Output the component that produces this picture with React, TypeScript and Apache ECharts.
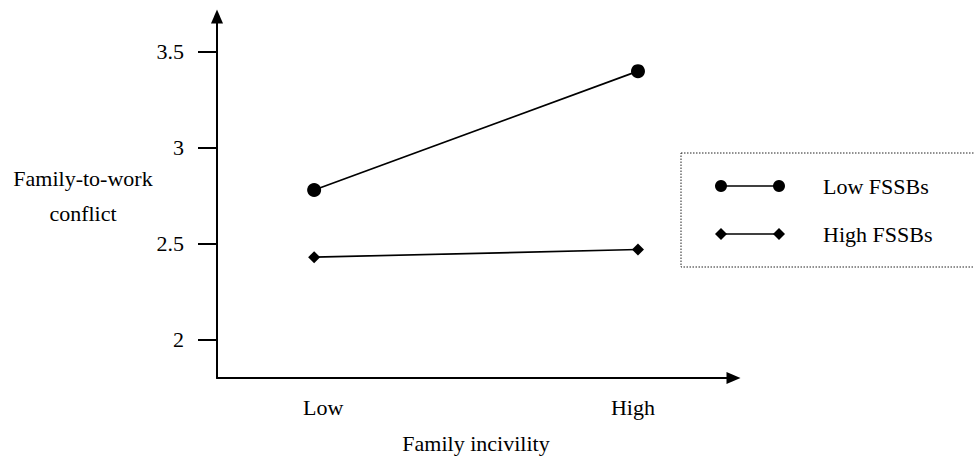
import React, { useEffect, useRef } from 'react';
import * as echarts from 'echarts';

const xCategories = ['Low', 'High'];
const seriesNames = ['Low FSSBs', 'High FSSBs'];
const lowFSSBs = [2.78, 3.4];
const highFSSBs = [2.43, 2.47];
const yTicks = [2, 2.5, 3, 3.5];
const yAxisTitle = ['Family-to-work', 'conflict'];
const xAxisTitle = 'Family incivility';

const FONT = "'Liberation Serif', 'Times New Roman', serif";

export default function App() {
  const ref = useRef<HTMLDivElement>(null);

  useEffect(() => {
    document.body.style.margin = '0';
    const chart = echarts.init(ref.current!, null, { renderer: 'svg' });
    const symbols = ['circle', 'diamond'];
    const symbolSizes = [14, 12];
    const seriesData = [lowFSSBs, highFSSBs];

    const graphics: any[] = [
      {
        type: 'rect',
        shape: { x: 681, y: 153, width: 320, height: 114 },
        style: { fill: 'none', stroke: '#222', lineWidth: 1, lineDash: [1.5, 1.5] },
      },
      {
        type: 'text',
        x: 83,
        y: 178,
        style: { text: yAxisTitle[0], fontSize: 22, fontFamily: FONT, fill: '#000', align: 'center', verticalAlign: 'middle' },
      },
      {
        type: 'text',
        x: 83,
        y: 213,
        style: { text: yAxisTitle[1], fontSize: 22, fontFamily: FONT, fill: '#000', align: 'center', verticalAlign: 'middle' },
      },
      {
        type: 'text',
        x: 476,
        y: 443,
        style: { text: xAxisTitle, fontSize: 22, fontFamily: FONT, fill: '#000', align: 'center', verticalAlign: 'middle' },
      },
    ];

    seriesNames.forEach((name, i) => {
      const y = 186 + i * 48;
      graphics.push({
        type: 'line',
        shape: { x1: 721, y1: y, x2: 779, y2: y },
        style: { stroke: '#000', lineWidth: 1.7 },
      });
      [721, 779].forEach((cx) => {
        if (symbols[i] === 'circle') {
          graphics.push({ type: 'circle', shape: { cx, cy: y, r: 6 }, style: { fill: '#000' } });
        } else {
          graphics.push({
            type: 'polygon',
            shape: { points: [[cx - 6, y], [cx, y - 6], [cx + 6, y], [cx, y + 6]] },
            style: { fill: '#000' },
          });
        }
      });
      graphics.push({
        type: 'text',
        x: 823,
        y,
        style: { text: name, fontSize: 22, fontFamily: FONT, fill: '#000', align: 'left', verticalAlign: 'middle' },
      });
    });

    chart.setOption({
      animation: false,
      backgroundColor: '#fff',
      textStyle: { fontFamily: FONT },
      grid: { left: 217, right: 240.5, top: 16.5, bottom: 80, containLabel: false },
      xAxis: {
        type: 'value',
        min: -0.3,
        max: 1.295,
        splitLine: { show: false },
        axisTick: { show: false },
        axisLine: {
          show: true,
          onZero: false,
          symbol: ['none', 'triangle'],
          symbolSize: [12, 14],
          lineStyle: { color: '#000', width: 2 },
        },
        axisLabel: {
          customValues: [0, 1],
          margin: 18,
          color: '#000',
          fontSize: 22,
          fontFamily: FONT,
          formatter: (v: number) => (Math.round(v) === 0 ? '{l|' + xCategories[0] + '}' : '{h|' + xCategories[1] + '}'),
          rich: {
            l: { fontSize: 22, fontFamily: FONT, color: '#000', padding: [0, 0, 0, 18] },
            h: { fontSize: 22, fontFamily: FONT, color: '#000', padding: [0, 10, 0, 0] },
          },
        },
      },
      yAxis: {
        type: 'value',
        min: 1.8,
        max: 3.685,
        splitLine: { show: false },
        axisLine: {
          show: true,
          onZero: false,
          symbol: ['none', 'triangle'],
          symbolSize: [12, 14],
          lineStyle: { color: '#000', width: 2 },
        },
        axisTick: {
          show: true,
          customValues: yTicks,
          length: 19,
          lineStyle: { color: '#000', width: 2 },
        },
        axisLabel: {
          customValues: yTicks,
          margin: 33,
          color: '#000',
          fontSize: 22,
          fontFamily: FONT,
        },
      },
      series: seriesData.map((vals, i) => ({
        name: seriesNames[i],
        type: 'line',
        data: vals.map((v, j) => [j, v]),
        symbol: symbols[i],
        symbolSize: symbolSizes[i],
        lineStyle: { color: '#000', width: 1.7 },
        itemStyle: { color: '#000' },
        silent: true,
      })),
      graphic: graphics,
    });

    return () => chart.dispose();
  }, []);

  return <div ref={ref} style={{ width: 974, height: 458 }} />;
}
